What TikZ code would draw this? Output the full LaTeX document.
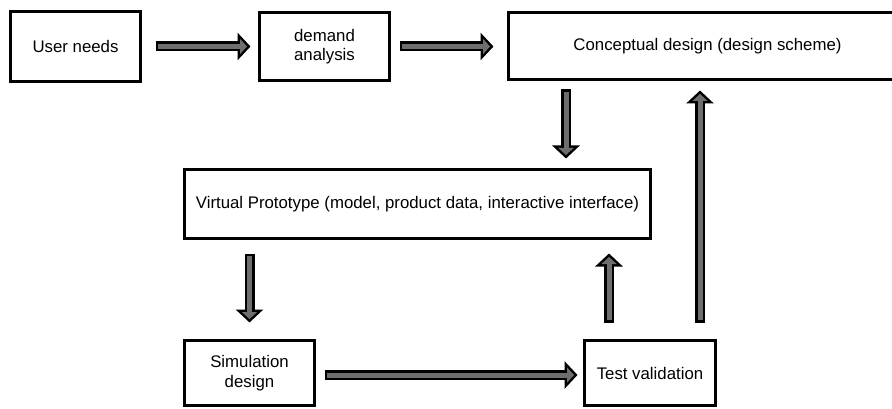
\documentclass[tikz,border=0pt]{standalone}
\usepackage{fontspec}
\setmainfont{Liberation Sans}
\usetikzlibrary{arrows.meta,calc}
\definecolor{arrowgray}{HTML}{6E6E6E}
\tikzset{
  box/.style={draw=black, line width=3pt, fill=white, inner sep=0pt, align=center,
    font=\fontsize{16.8}{19.5}\selectfont},
  outerarrow/.style={draw=black, line width=10pt,
    -{Triangle[length=13pt,width=27pt]}},
  innerarrow/.style={draw=arrowgray, line width=5pt, shorten <=2.5pt, shorten >=3.5pt,
    -{Triangle[length=7pt,width=15pt]}, arrowgray}
}
\newcommand\blockarrow[2]{\draw[outerarrow] #1 -- #2; \draw[innerarrow] #1 -- #2;}
\begin{document}
\begin{tikzpicture}[x=1pt,y=-1pt]
\useasboundingbox (0,0) rectangle (892,409);
\clip (0,0) rectangle (892,409);
\fill[white] (0,0) rectangle (892,409);
\node[box, minimum width=130pt, minimum height=70pt] (user) at (75.5,46.5) {User needs};
\node[box, minimum width=130pt, minimum height=68pt] (demand) at (324.5,46.5) {demand\\analysis};
\node[box, minimum width=398pt, minimum height=67pt] (concept) at (707.5,46)
  {Conceptual design (design scheme)};
\node[box, minimum width=466pt, minimum height=69pt] (virtual) at (417.5,204)
  {Virtual Prototype (model, product data, interactive interface)};
\node[box, minimum width=130pt, minimum height=65pt] (sim) at (249.5,373) {Simulation\\design};
\node[box, minimum width=131pt, minimum height=65pt] (test) at (650,373) {Test validation};
\coordinate (xa) at (566,0);
\coordinate (xb) at (609,0);
\coordinate (xc) at (700,0);
\coordinate (yh) at (0,375);
\blockarrow{([xshift=13.5pt]user.east)}{([xshift=-7.5pt]demand.west)}
\blockarrow{([xshift=8.5pt]demand.east)}{([xshift=-13.5pt]concept.west |- demand.east)}
\blockarrow{($(xa |- concept.south)+(0,8.5)$)}{($(xa |- virtual.north)+(0,-9.5)$)}
\blockarrow{($(sim.north |- virtual.south)+(0,13.5)$)}{($(sim.north)+(0,-16.5)$)}
\blockarrow{($(sim.east |- yh)+(8.5,0)$)}{($(test.west |- yh)+(-5.5,0)$)}
\blockarrow{($(xb |- test.north)+(0,-16.5)$)}{($(xb |- virtual.south)+(0,13.5)$)}
\blockarrow{($(xc |- test.north)+(0,-16.5)$)}{($(xc |- concept.south)+(0,9.5)$)}
\end{tikzpicture}
\end{document}
